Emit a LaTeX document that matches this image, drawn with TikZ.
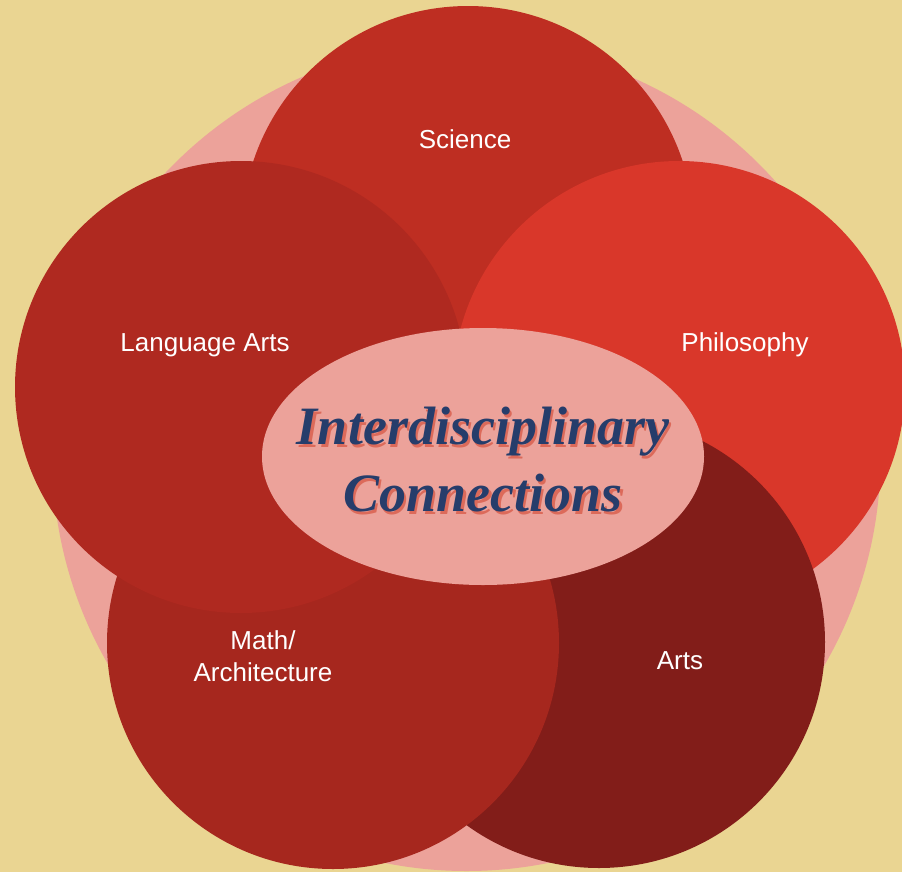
\documentclass[tikz,border=0pt]{standalone}
\usepackage{fontspec}
\setsansfont{Liberation Sans}
\newfontfamily\headlinefont{Liberation Serif}
\usetikzlibrary{shapes.geometric}

\definecolor{paper}{HTML}{EAD592}
\definecolor{paperdark}{HTML}{E0C888}
\definecolor{blush}{HTML}{ECA29A}
\definecolor{sciencered}{HTML}{BE2E22}
\definecolor{langred}{HTML}{AF2920}
\definecolor{philored}{HTML}{D9372A}
\definecolor{mathred}{HTML}{A6271E}
\definecolor{artsred}{HTML}{821D19}
\definecolor{navy}{HTML}{263D6B}
\definecolor{shadowred}{HTML}{DC6A5A}

\pgfdeclareradialshading{vignette}{\pgfpoint{0bp}{0bp}}{color(0bp)=(paper); color(38bp)=(paper); color(72bp)=(paperdark)}

\begin{document}
\begin{tikzpicture}[font=\sffamily, x=1pt, y=-1pt]
        % Define styles
    \tikzset{
        subject/.style={circle, minimum size=452pt, inner sep=0pt},
        subjectlabel/.style={text=white, font=\sffamily\fontsize{26}{32}\selectfont, align=center},
        hub/.style={ellipse, minimum width=442pt, minimum height=257pt, inner sep=0pt, fill=blush},
        headline/.style={font=\headlinefont\bfseries\itshape\fontsize{54}{67}\selectfont, align=center},
    }

    % Background
    \useasboundingbox (0,0) rectangle (902,871);
    \shade[shading=vignette] (0,0) rectangle (902,871);
    \node[circle, minimum size=828pt, inner sep=0pt, fill=blush] (ring) at (466.5,457) {};

    % Circles
    \node[subject, fill=sciencered] (science) at (468,232) {};
    \node[subject, fill=philored] (philosophy) at (679,387) {};
    \node[subject, fill=artsred] (arts) at (599,642) {};
    \node[subject, fill=mathred] (math) at (333,643) {};
    \node[subject, fill=langred] (language) at (241,387) {};

    % Labels
    \node[subjectlabel, anchor=base] (sciencelabel) at (465,148.5) {Science};
    \node[subjectlabel, anchor=base] (languagelabel) at (205,351) {Language Arts};
    \node[subjectlabel, anchor=base] (philosophylabel) at (745,351) {Philosophy};
    \node[subjectlabel] (mathlabel) at (263,656) {Math/\\Architecture};
    \node[subjectlabel, anchor=base] (artslabel) at (680,669) {Arts};

    % Title
    \node[hub] (hub) at (483,456.5) {};
    \node[headline, text=shadowred] (headlineshadow) at (485.5,462.5) {Interdisciplinary\\Connections};
    \node[headline, text=navy] (headline) at (483,460) {Interdisciplinary\\Connections};
\end{tikzpicture}
\end{document}
